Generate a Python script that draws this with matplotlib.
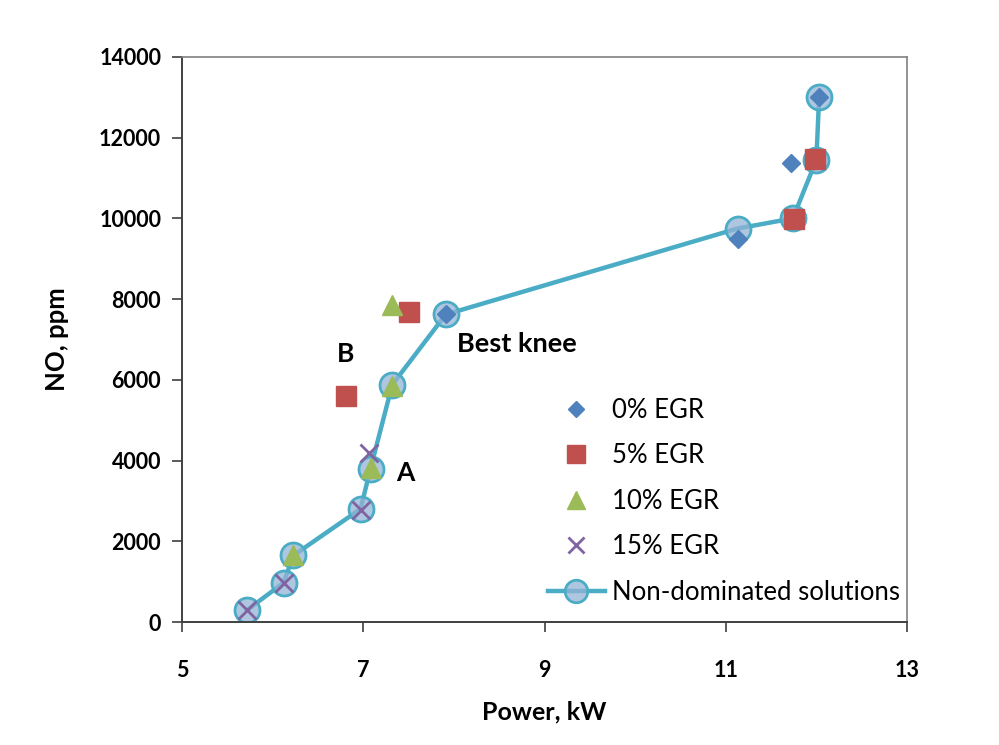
import matplotlib
matplotlib.use("Agg")
import matplotlib.pyplot as plt

# Data
nd_power = [5.72, 6.12, 6.23, 6.97, 7.08, 7.32, 7.91, 11.13, 11.74, 12.00, 12.03]
nd_no    = [300, 970, 1650, 2800, 3800, 5880, 7620, 9750, 10000, 11450, 13000]

egr0_power = [7.91, 11.13, 11.72, 12.03]
egr0_no    = [7620, 9480, 11380, 13000]

egr5_power = [6.81, 7.51, 11.75, 11.99]
egr5_no    = [5590, 7680, 9980, 11470]

egr10_power = [6.23, 7.08, 7.32, 7.32]
egr10_no    = [1660, 3820, 5860, 7850]

egr15_power = [5.72, 6.12, 6.97, 7.06]
egr15_no    = [300, 970, 2780, 4180]

xticks = [5, 7, 9, 11, 13]
yticks = [0, 2000, 4000, 6000, 8000, 10000, 12000, 14000]

plt.rcParams['font.family'] = ['Lato', 'DejaVu Sans']

fig = plt.figure(figsize=(9.99, 7.45), dpi=100)
ax = fig.add_axes([0.1822, 0.1651, 0.7257, 0.7584])

c_line = '#4bacc6'
ax.plot(nd_power, nd_no, '-', color=c_line, lw=3.2, marker='o', ms=18,
        mfc=(0.58, 0.70, 0.84, 0.75), mec=c_line, mew=2, zorder=2,
        label='Non-dominated solutions')
ax.plot(egr0_power, egr0_no, 'D', color='#4f81bd', ms=9.5, ls='none', zorder=3, label='0% EGR')
ax.plot(egr5_power, egr5_no, 's', color='#c0504d', ms=14, ls='none', zorder=3, label='5% EGR')
ax.plot(egr10_power, egr10_no, '^', color='#9bbb59', ms=14, ls='none', zorder=3, label='10% EGR')
ax.plot(egr15_power, egr15_no, 'x', color='#8064a2', ms=13, mew=2, ls='none', zorder=4, label='15% EGR')

ax.set_xlim(5, 13)
ax.set_ylim(0, 14000)
ax.set_xticks(xticks)
ax.set_yticks(yticks)
ax.set_xticklabels([str(v) for v in xticks], fontsize=15.5, fontweight='bold')
ax.set_yticklabels([str(v) for v in yticks], fontsize=15.5, fontweight='bold')
ax.tick_params(direction='out', length=7, width=1.2, color='#404040', pad=8)
ax.tick_params(axis='x', pad=20)
for s in ['left', 'bottom']:
    ax.spines[s].set_color('#404040')
    ax.spines[s].set_linewidth(1.4)
for s in ['top', 'right']:
    ax.spines[s].set_color('#808080')
    ax.spines[s].set_linewidth(1.2)

ax.set_xlabel('Power, kW', fontsize=18, fontweight='bold', labelpad=14)
ax.set_ylabel('NO, ppm', fontsize=18.5, fontweight='bold', labelpad=22)

ax.text(6.81, 6650, 'B', fontsize=19, fontweight='bold', ha='center', va='center')
ax.text(7.46, 3700, 'A', fontsize=19, fontweight='bold', ha='center', va='center')
ax.text(8.03, 6880, 'Best knee', fontsize=19.5, fontweight='bold', ha='left', va='center')

handles, labels = ax.get_legend_handles_labels()
order = [1, 2, 3, 4, 0]
leg = ax.legend([handles[i] for i in order], [labels[i] for i in order],
                loc='upper left', bbox_to_anchor=(0.505, 0.397), frameon=False,
                borderpad=0, borderaxespad=0,
                fontsize=18.5, labelspacing=0.80, handlelength=2.2, handletextpad=0.3,
                markerscale=0.9)

fig.savefig('out.png', dpi=100, facecolor='white')
